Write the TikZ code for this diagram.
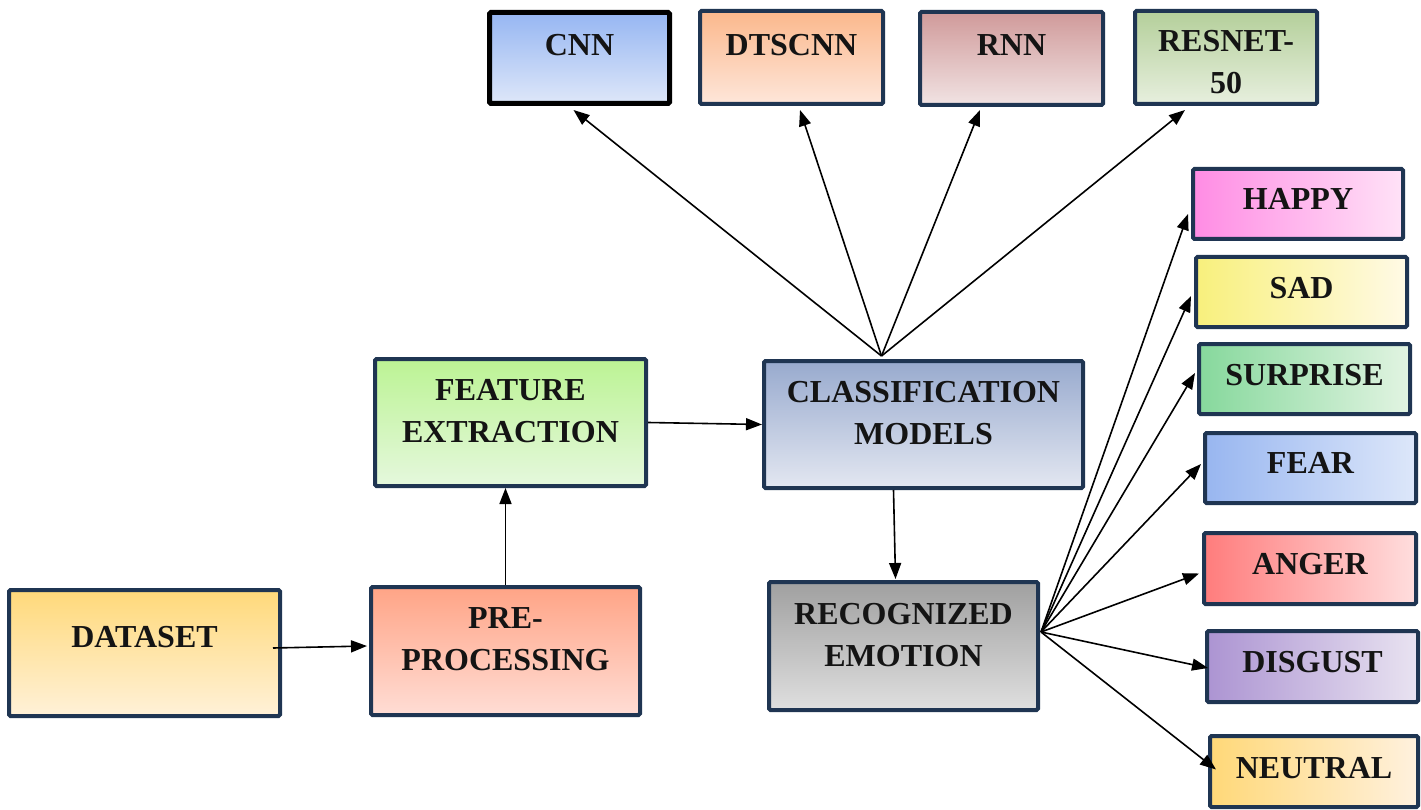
\documentclass[tikz,border=0pt]{standalone}
\usepackage{fontspec}
\setmainfont{Liberation Serif}
\usetikzlibrary{arrows.meta}
\definecolor{navy}{RGB}{31,53,82}
\definecolor{txt}{RGB}{20,20,20}
\definecolor{cnnT}{HTML}{96B6F2}\definecolor{cnnB}{HTML}{DEE7F9}
\definecolor{dtsT}{HTML}{FBB88C}\definecolor{dtsB}{HTML}{FEE6DA}
\definecolor{rnnT}{HTML}{D09A9A}\definecolor{rnnB}{HTML}{F1E3E3}
\definecolor{resT}{HTML}{B4CF9A}\definecolor{resB}{HTML}{E7EFDE}
\definecolor{hapL}{HTML}{FF8CE4}\definecolor{hapR}{HTML}{FFE2F7}
\definecolor{sadL}{HTML}{F8F07C}\definecolor{sadR}{HTML}{FFFAE6}
\definecolor{surL}{HTML}{86D89C}\definecolor{surR}{HTML}{E2F4E2}
\definecolor{feaL}{HTML}{98B6F0}\definecolor{feaR}{HTML}{DDE7FA}
\definecolor{angL}{HTML}{FF7C7C}\definecolor{angR}{HTML}{FFDEDE}
\definecolor{disL}{HTML}{AC94D2}\definecolor{disR}{HTML}{E9E3F1}
\definecolor{neuL}{HTML}{FFD878}\definecolor{neuR}{HTML}{FFF1DE}
\definecolor{fetT}{HTML}{BCF394}\definecolor{fetB}{HTML}{E5F8DD}
\definecolor{clsT}{HTML}{98AACE}\definecolor{clsB}{HTML}{E3E7F1}
\definecolor{recT}{HTML}{A0A0A0}\definecolor{recB}{HTML}{DFDFDF}
\definecolor{dsT}{HTML}{FFD97A}\definecolor{dsB}{HTML}{FFF1D8}
\definecolor{preT}{HTML}{FFA486}\definecolor{preB}{HTML}{FFDDD5}
\begin{document}
\begin{tikzpicture}[x=1pt,y=-1pt,
  box/.style={draw=navy,line width=4pt,rounded corners=1.5pt,inner sep=0pt},
  lbl/.style={font=\fontsize{32}{42}\selectfont\bfseries,text=txt,align=center,inner sep=0pt},
  arr/.style={line width=1.6pt,-{Triangle[length=16pt,width=12pt]}},
  vbox/.style 2 args={box,top color=#1,bottom color=#2},
  hbox/.style 2 args={box,left color=#1,right color=#2,minimum width=211pt,minimum height=70pt}
]
\useasboundingbox (0,0) rectangle (1421,810);
% top models
\node[vbox={cnnT}{cnnB},draw=black,line width=5pt,minimum width=180pt,minimum height=91pt,
  label={[lbl,yshift=13pt]center:CNN}] (cnn) at (579.5,58) {};
\node[vbox={dtsT}{dtsB},minimum width=183pt,minimum height=93pt,
  label={[lbl,yshift=12pt]center:DTSCNN}] (dts) at (791.5,57.5) {};
\node[vbox={rnnT}{rnnB},minimum width=183pt,minimum height=93pt,
  label={[lbl,yshift=13pt]center:RNN}] (rnn) at (1011.5,58.5) {};
\node[vbox={resT}{resB},minimum width=182pt,minimum height=93pt,
  label={[lbl,yshift=-5pt]center:RESNET-\\50}] (res) at (1226,57.5) {};
% emotions
\node[hbox={hapL}{hapR},minimum width=210pt,label={[lbl,yshift=5pt]center:HAPPY}] (hap) at (1298,204) {};
\node[hbox={sadL}{sadR},label={[lbl,yshift=4pt]center:SAD}] (sad) at (1301.5,292) {};
\node[hbox={surL}{surR},label={[lbl,yshift=4pt]center:SURPRISE}] (sur) at (1304.5,379) {};
\node[hbox={feaL}{feaR},label={[lbl,yshift=5pt]center:FEAR}] (fea) at (1310.5,468) {};
\node[hbox={angL}{angR},minimum width=212pt,minimum height=71pt,label={[lbl,yshift=4pt]center:ANGER}] (ang) at (1310,568.5) {};
\node[hbox={disL}{disR},minimum height=71pt,label={[lbl,yshift=4pt]center:DISGUST}] (dis) at (1312.5,666.5) {};
\node[hbox={neuL}{neuR},minimum width=208pt,minimum height=71pt,label={[lbl,yshift=3pt]center:NEUTRAL}] (neu) at (1314,771.5) {};
% main flow
\node[vbox={fetT}{fetB},minimum width=271pt,minimum height=127pt,
  label={[lbl,yshift=11pt]center:FEATURE\\EXTRACTION}] (fet) at (510.5,422.5) {};
\node[vbox={clsT}{clsB},minimum width=319pt,minimum height=127pt,
  label={[lbl,yshift=11pt]center:CLASSIFICATION\\MODELS}] (cls) at (923.5,424.5) {};
\node[vbox={recT}{recB},minimum width=269pt,minimum height=128pt,
  label={[lbl,yshift=11pt]center:RECOGNIZED\\EMOTION}] (rec) at (903.5,646) {};
\node[vbox={dsT}{dsB},minimum width=271pt,minimum height=126pt,
  label={[lbl,yshift=16pt]center:DATASET}] (ds) at (144.5,653) {};
\node[vbox={preT}{preB},minimum width=269pt,minimum height=128pt,
  label={[lbl,yshift=12pt]center:PRE-\\PROCESSING}] (pre) at (505.5,651) {};
% connectors
\draw[arr] ([shift={(-9,-5)}]ds.east) -- ([shift={(-2,-5)}]pre.west);
\draw[arr] (pre.north) -- (pre.north |- fet.south);
\draw[arr] (fet.east) -- (cls.west);
\draw[arr] ([xshift=-30pt]cls.south) -- ([shift={(-8,-1)}]rec.north);
\coordinate (apex) at ([shift={(-42,-3)}]cls.north);
\draw[arr] (apex) -- ([shift={(-6,4)}]cnn.south);
\draw[arr] (apex) -- ([shift={(8.5,4)}]dts.south);
\draw[arr] (apex) -- ([shift={(-31.5,3)}]rnn.south);
\draw[arr] (apex) -- ([shift={(-41,4)}]res.south);
\coordinate (fan) at ([shift={(1,-14)}]rec.east);
\draw[arr] (fan) -- ([shift={(-3,10)}]hap.west);
\draw[arr] (fan) -- ([shift={(-3,4)}]sad.west);
\draw[arr] (fan) -- ([shift={(-2,-6)}]sur.west);
\draw[arr] (fan) -- ([shift={(-2,-4)}]fea.west);
\draw[arr] (fan) -- ([shift={(-3,5)}]ang.west);
\draw[arr] (fan) -- ([shift={(3,1.5)}]dis.west);
\draw[arr] (fan) -- ([shift={(8,-2)}]neu.west);
\end{tikzpicture}
\end{document}
